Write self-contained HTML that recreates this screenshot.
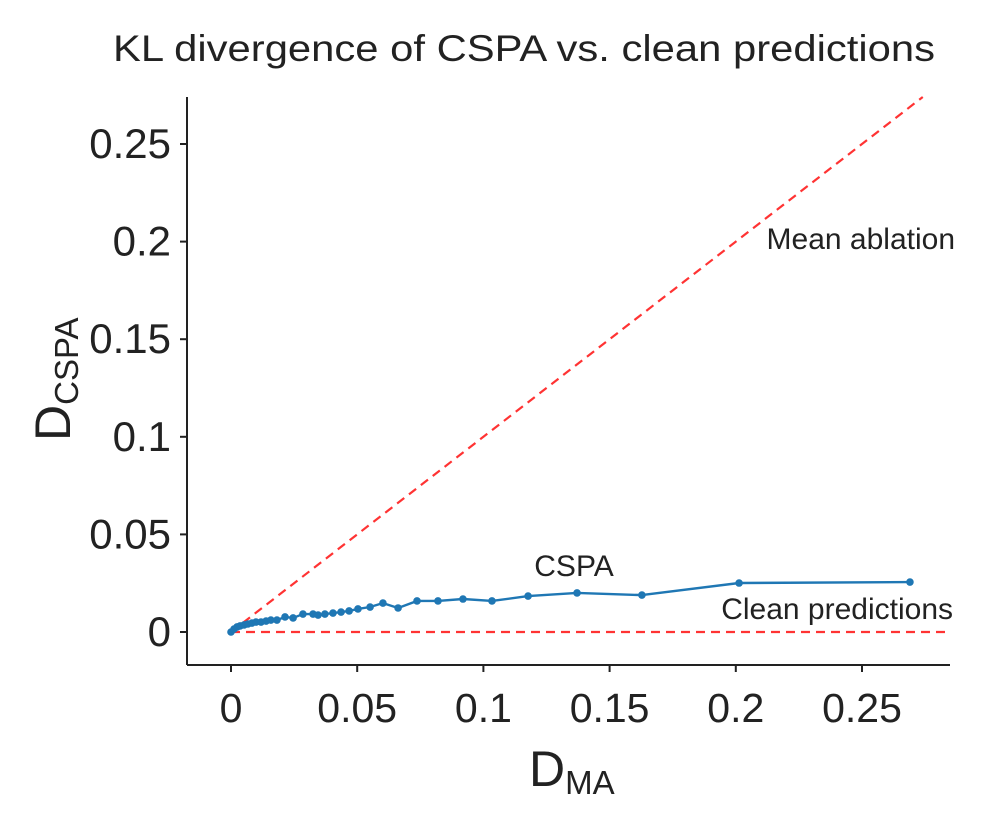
<!DOCTYPE html>
<html><head><meta charset="utf-8"><style>
body{margin:0;background:#fff}
svg text{font-family:"Liberation Sans","DejaVu Sans",sans-serif;fill:#222}
</style></head><body>
<svg id="chart" width="982" height="814" xmlns="http://www.w3.org/2000/svg">
<text x="524" y="61" font-size="37" text-anchor="middle" textLength="822" lengthAdjust="spacingAndGlyphs">KL divergence of CSPA vs. clean predictions</text>
<g id="axes"></g>
<g id="plot"></g>
<text x="955" y="249" font-size="30" text-anchor="end">Mean ablation</text>
<text x="574" y="576" font-size="30" text-anchor="middle">CSPA</text>
<text x="953" y="619" font-size="30" text-anchor="end">Clean predictions</text>
<text x="529" y="786" font-size="50">D<tspan font-size="33" dy="8">MA</tspan></text>
<text transform="translate(70,441) rotate(-90)" font-size="50">D<tspan font-size="33" dy="8">CSPA</tspan></text>
</svg>
<script>
const xVals=[0,0.0012,0.0024,0.0036,0.0052,0.0067,0.0083,0.0099,0.0119,0.0139,0.0158,0.0182,0.0214,0.0246,0.0285,0.0325,0.0345,0.0372,0.0404,0.0436,0.0468,0.0503,0.0551,0.0602,0.0662,0.0737,0.0820,0.0919,0.1034,0.1177,0.1371,0.1628,0.2013,0.2690];
const yVals=[0,0.0015,0.0026,0.0031,0.0036,0.0041,0.0046,0.0051,0.0051,0.0056,0.0061,0.0061,0.0077,0.0072,0.0092,0.0092,0.0087,0.0092,0.0097,0.0102,0.0108,0.0118,0.0128,0.0148,0.0123,0.0159,0.0159,0.0169,0.0159,0.0184,0.0200,0.0189,0.0251,0.0256];
const xTicks=[0,0.05,0.1,0.15,0.2,0.25];
const xTickLabels=["0","0.05","0.1","0.15","0.2","0.25"];
const yTicks=[0,0.05,0.1,0.15,0.2,0.25];
const yTickLabels=["0","0.05","0.1","0.15","0.2","0.25"];
const NS="http://www.w3.org/2000/svg";
const X=v=>231+v*2524, Y=v=>632-v*1952;
const L=187,R=950,T=97,B=665;
function mk(t,a,p){const e=document.createElementNS(NS,t);for(const k in a)e.setAttribute(k,a[k]);p.appendChild(e);return e;}
const ax=document.getElementById('axes'), pl=document.getElementById('plot');
let e=mk('line',{x1:L,y1:T,x2:L,y2:B,stroke:'#222','stroke-width':2},ax);


e=mk('line',{x1:L,y1:B,x2:R,y2:B,stroke:'#222','stroke-width':2},ax);


xTicks.forEach((v,i)=>{
 const t=mk('line',{x1:X(v),y1:B,x2:X(v),y2:B+7,stroke:'#222','stroke-width':2},ax);
 
 
 const s=mk('text',{x:X(v),y:B+57,'font-size':41,'text-anchor':'middle'},ax);s.textContent=xTickLabels[i];
 
 
});
yTicks.forEach((v,i)=>{
 const t=mk('line',{x1:L-7,y1:Y(v),x2:L,y2:Y(v),stroke:'#222','stroke-width':2},ax);
 
 
 const s=mk('text',{x:L-16,y:Y(v)+14,'font-size':42,'text-anchor':'end'},ax);s.textContent=yTickLabels[i];
 
 
});
const topV=(632-T)/1952;
e=mk('line',{x1:X(0),y1:Y(0),x2:X(topV),y2:Y(topV),stroke:'#f33','stroke-width':2.2,'stroke-dasharray':'9,6'},pl);


e=mk('line',{x1:X(0),y1:Y(0),x2:R,y2:Y(0),stroke:'#f33','stroke-width':2.2,'stroke-dasharray':'9,6'},pl);


e=mk('polyline',{points:xVals.map((v,i)=>X(v)+','+Y(yVals[i])).join(' '),fill:'none',stroke:'#1f77b4','stroke-width':2.4},pl);


xVals.forEach((v,i)=>{
 const c=mk('circle',{cx:X(v),cy:Y(yVals[i]),r:3.8,fill:'#1f77b4'},pl);
 
 
});
</script>
</body></html>
